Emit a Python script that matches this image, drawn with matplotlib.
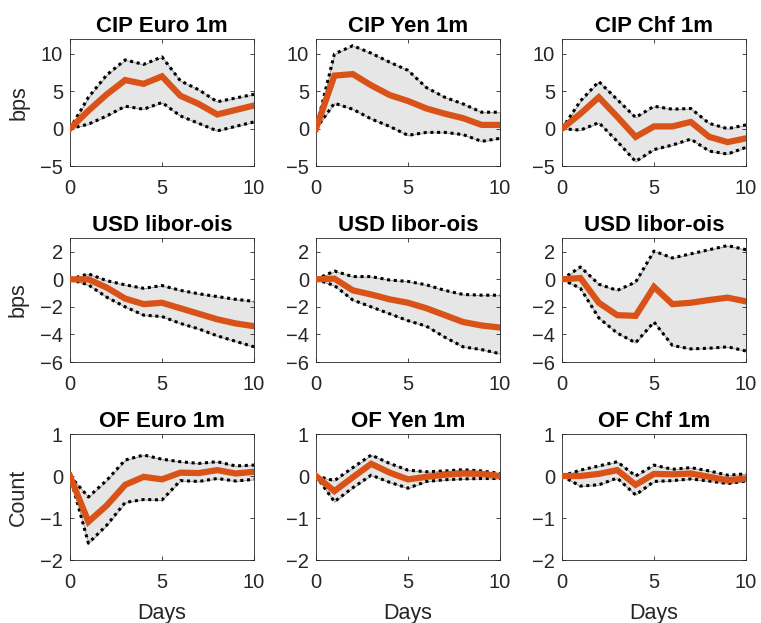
import numpy as np
import matplotlib
matplotlib.use('Agg')
import matplotlib.pyplot as plt

plt.rcParams['font.family'] = ['Liberation Sans', 'DejaVu Sans']

days = np.arange(11)

titles = ['CIP Euro 1m', 'CIP Yen 1m', 'CIP Chf 1m',
          'USD libor-ois', 'USD libor-ois', 'USD libor-ois',
          'OF Euro 1m', 'OF Yen 1m', 'OF Chf 1m']

# impulse responses: median, upper band, lower band
cip_euro_med = [0, 2.4, 4.6, 6.5, 6.0, 7.0, 4.4, 3.3, 1.9, 2.5, 3.1]
cip_euro_up = [0, 4.2, 7.2, 9.2, 8.6, 9.6, 6.4, 5.2, 3.6, 4.1, 4.6]
cip_euro_lo = [0, 0.6, 1.7, 3.0, 2.6, 3.5, 1.7, 0.7, -0.3, 0.3, 0.9]

cip_yen_med = [0, 7.1, 7.3, 5.8, 4.5, 3.7, 2.7, 2.0, 1.4, 0.5, 0.5]
cip_yen_up = [0, 10.0, 11.1, 10.1, 8.9, 7.8, 5.5, 4.2, 3.3, 2.2, 2.2]
cip_yen_lo = [0, 3.4, 2.6, 1.3, 0.3, -0.9, -0.5, -0.5, -0.8, -1.7, -1.3]

cip_chf_med = [0, 2.0, 4.2, 1.6, -1.1, 0.3, 0.3, 0.9, -1.1, -1.8, -1.3]
cip_chf_up = [0, 3.7, 6.3, 3.9, 1.5, 3.0, 2.6, 2.7, 0.7, 0.0, 0.5]
cip_chf_lo = [0, -0.2, 0.8, -1.7, -4.4, -2.8, -2.2, -1.4, -3.0, -3.4, -2.5]

usd1_med = [0, 0.0, -0.6, -1.4, -1.8, -1.7, -2.1, -2.5, -2.9, -3.2, -3.4]
usd1_up = [0, 0.4, -0.1, -0.4, -0.65, -0.45, -0.8, -1.05, -1.25, -1.45, -1.6]
usd1_lo = [0, -0.4, -1.3, -2.0, -2.6, -2.7, -3.2, -3.6, -4.1, -4.5, -4.9]

usd2_med = [0, 0.05, -0.8, -1.1, -1.45, -1.7, -2.1, -2.6, -3.1, -3.35, -3.5]
usd2_up = [0, 0.6, 0.2, 0.2, -0.05, -0.15, -0.4, -0.8, -1.1, -1.15, -1.15]
usd2_lo = [0, -0.45, -1.5, -2.0, -2.5, -3.0, -3.4, -4.2, -4.9, -5.1, -5.4]

usd3_med = [0, 0.1, -1.7, -2.6, -2.65, -0.55, -1.8, -1.7, -1.5, -1.33, -1.6]
usd3_up = [0, 0.9, -0.35, -0.8, -0.2, 2.05, 1.55, 1.85, 2.15, 2.45, 2.15]
usd3_lo = [0, -0.65, -2.8, -3.9, -4.6, -3.1, -4.8, -5.05, -5.0, -4.9, -5.2]

of_euro_med = [0, -1.09, -0.7, -0.21, -0.02, -0.08, 0.08, 0.07, 0.14, 0.06, 0.1]
of_euro_up = [0, -0.5, -0.1, 0.38, 0.5, 0.4, 0.34, 0.3, 0.34, 0.24, 0.26]
of_euro_lo = [0, -1.6, -1.17, -0.63, -0.56, -0.57, -0.11, -0.13, -0.06, -0.12, -0.08]

of_yen_med = [0, -0.36, -0.03, 0.29, 0.08, -0.08, -0.02, 0.03, 0.06, 0.05, 0.0]
of_yen_up = [0, -0.11, 0.2, 0.5, 0.3, 0.14, 0.1, 0.12, 0.15, 0.12, 0.06]
of_yen_lo = [0, -0.61, -0.28, 0.02, -0.15, -0.29, -0.13, -0.09, -0.07, -0.06, -0.06]

of_chf_med = [0, 0.0, 0.05, 0.14, -0.21, 0.05, 0.04, 0.06, -0.02, -0.1, -0.06]
of_chf_up = [0, 0.14, 0.24, 0.34, 0.0, 0.26, 0.16, 0.2, 0.12, 0.02, 0.05]
of_chf_lo = [0, -0.24, -0.21, -0.05, -0.45, -0.13, -0.11, -0.07, -0.12, -0.18, -0.12]

medians = [cip_euro_med, cip_yen_med, cip_chf_med, usd1_med, usd2_med, usd3_med,
           of_euro_med, of_yen_med, of_chf_med]
uppers = [cip_euro_up, cip_yen_up, cip_chf_up, usd1_up, usd2_up, usd3_up,
          of_euro_up, of_yen_up, of_chf_up]
lowers = [cip_euro_lo, cip_yen_lo, cip_chf_lo, usd1_lo, usd2_lo, usd3_lo,
          of_euro_lo, of_yen_lo, of_chf_lo]

row_ylims = [(-5, 12), (-6, 3), (-2, 1)]
row_yticks = [[-5, 0, 5, 10], [-6, -4, -2, 0, 2], [-2, -1, 0, 1]]
row_ylabels = ['bps', 'bps', 'Count']

W, H = 761, 623
col_left = [70, 316, 562]
ax_w = 184
row_top = [39, 238, 434]
row_bot = [166, 362, 560]

fig = plt.figure(figsize=(W / 100, H / 100), dpi=100)

for i in range(9):
    r, c = divmod(i, 3)
    ax = fig.add_axes([col_left[c] / W, 1 - row_bot[r] / H, ax_w / W,
                       (row_bot[r] - row_top[r]) / H])
    ax.fill_between(days, lowers[i], uppers[i], color='#e6e6e6',
                    edgecolor='#8c8c8c', linewidth=0.6, zorder=1)
    ax.plot(days, uppers[i], color='k', ls=(0, (1, 1.2)), lw=2.2, zorder=2)
    ax.plot(days, lowers[i], color='k', ls=(0, (1, 1.2)), lw=2.2, zorder=2)
    ax.plot(days, medians[i], color='#D95319', lw=4.5, zorder=3,
            solid_joinstyle='miter')
    ax.set_xlim(0, 10)
    ax.set_ylim(*row_ylims[r])
    ax.set_xticks([0, 5, 10])
    ax.set_yticks(row_yticks[r])
    ax.set_title(titles[i], fontsize=16, fontweight='bold', pad=5)
    ax.tick_params(direction='in', top=True, right=True, length=3,
                   width=0.6, labelsize=14.5, colors='#262626')
    ax.tick_params(axis='x', pad=9)
    ax.tick_params(axis='y', pad=5)
    for s in ax.spines.values():
        s.set_color('#262626')
        s.set_linewidth(0.6)
    if c == 0:
        ax.set_ylabel(row_ylabels[r], fontsize=15.5, color='#262626',
                      labelpad=8)
    if r == 2:
        ax.set_xlabel('Days', fontsize=15.5, color='#262626', labelpad=8)

fig.savefig('out.png', dpi=100)
